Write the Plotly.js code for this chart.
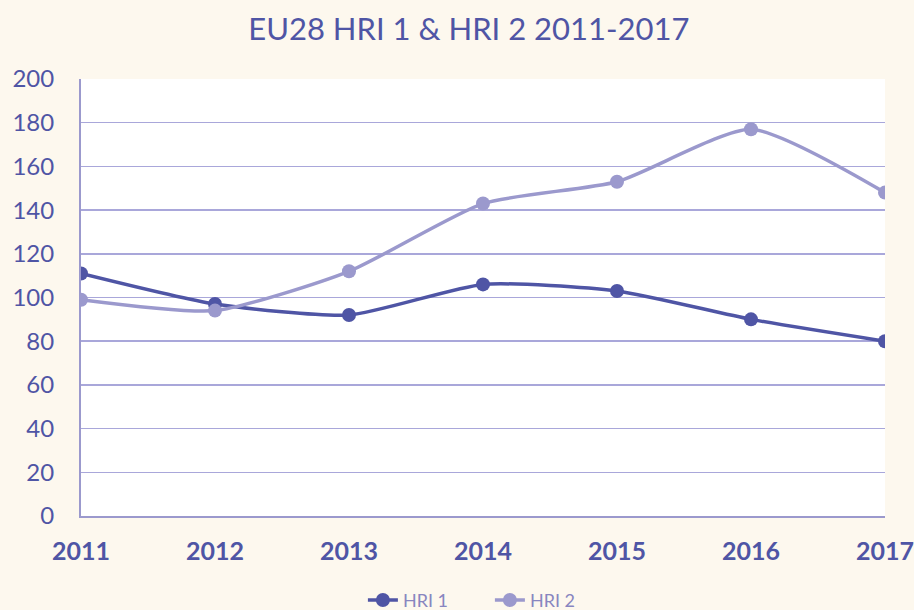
<!DOCTYPE html>
<html>
<head>
<meta charset="utf-8">
<script src="https://cdn.plot.ly/plotly-3.0.1.min.js"></script>
<style>html,body{margin:0;padding:0;background:#fdf8ee;}#chart{width:914px;height:610px;}</style>
</head>
<body>
<div id="chart"></div>
<script>
const years = [2011, 2012, 2013, 2014, 2015, 2016, 2017];
const hri1 = [111, 97, 92, 106, 103, 90, 80];
const hri2 = [99, 94, 112, 143, 153, 177, 148];
const yTicks = [0, 20, 40, 60, 80, 100, 120, 140, 160, 180, 200];

const fontFam = 'Lato, "Noto Sans", sans-serif';
const traces = [
  {x: years, y: hri1, name: 'HRI 1', type: 'scatter', mode: 'lines+markers',
   line: {color: '#4f55a5', width: 3.5, shape: 'spline', smoothing: 0.6},
   marker: {color: '#4f55a5', size: 14}},
  {x: years, y: hri2, name: 'HRI 2', type: 'scatter', mode: 'lines+markers',
   line: {color: '#9b99cd', width: 3.5, shape: 'spline', smoothing: 0.6},
   marker: {color: '#9b99cd', size: 14}}
];
const layout = {
  width: 914, height: 610,
  paper_bgcolor: '#fdf8ee', plot_bgcolor: '#ffffff',
  margin: {l: 81, r: 29, t: 79, b: 94, autoexpand: false},
  title: {text: 'EU28 HRI 1 & HRI 2 2011-2017', x: 0.513, xanchor: 'center', y: 0.952, yanchor: 'middle',
          font: {family: fontFam, size: 31, color: '#4f55a5'}},
  xaxis: {range: [2011, 2017], tickvals: years, ticktext: years.map(String), showgrid: false,
          showline: true, linecolor: '#9b99cd', linewidth: 2, zeroline: false, ticks: '',
          ticklabeloverflow: 'allow',
          tickfont: {family: fontFam, size: 25, color: '#4f55a5', weight: 'bold'}, ticklabelstandoff: 12, fixedrange: true},
  yaxis: {range: [0, 200], tickvals: yTicks, showgrid: true, gridcolor: '#a9a7da', gridwidth: 1.5,
          showline: true, linecolor: '#9b99cd', linewidth: 2, zeroline: false, ticks: '',
          ticklabeloverflow: 'allow',
          tickfont: {family: fontFam, size: 24, color: '#4f55a5'}, ticklabelstandoff: 20},
  showlegend: true,
  legend: {orientation: 'h', x: 0.536, xanchor: 'center', xref: 'container', y: 0.016, yanchor: 'middle', yref: 'container',
           entrywidth: 82, entrywidthmode: 'pixels',
           font: {family: fontFam, size: 18, color: '#8886c0'}, bgcolor: 'rgba(0,0,0,0)'}
};
Plotly.newPlot('chart', traces, layout, {displayModeBar: false, staticPlot: true});
</script>
</body>
</html>
